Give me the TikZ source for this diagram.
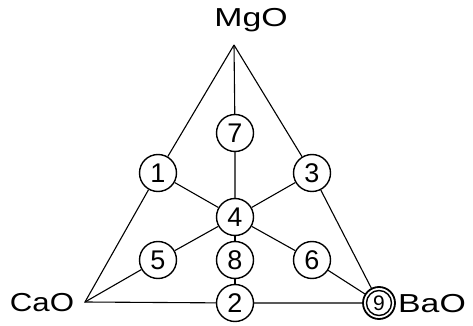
\documentclass[tikz,border=0pt]{standalone}
\usepackage{fontspec}
\setmainfont{Liberation Sans}
\begin{document}
\begin{tikzpicture}[x=1pt,y=1pt,
  num/.style={circle,draw,line width=1.4pt,minimum size=37pt,inner sep=0pt,
              font=\fontsize{27}{27}\selectfont},
  edge/.style={line width=1.1pt},
  lbl/.style={inner sep=0pt,font=\fontsize{26}{26}\selectfont}]
\useasboundingbox (0,0) rectangle (473,326);
\coordinate (A) at (234,281);
\coordinate (C) at (85,24);
\node[num] (n7) at (235,193) {7};
\node[num] (n1) at (158,153) {1};
\node[num] (n3) at (312,153) {3};
\node[num] (n4) at (235,109) {4};
\node[num] (n5) at (158,66) {5};
\node[num] (n8) at (235,66) {8};
\node[num] (n6) at (312,66) {6};
\node[num] (n2) at (235,23) {2};
\node[circle,draw,line width=1.8pt,minimum size=32pt,inner sep=0pt,
      font=\fontsize{21}{21}\selectfont] (n9) at (379,23) {9};
\draw[line width=1.4pt] (n9.center) circle (12.5);
% triangle
\draw[edge] (A) -- (n1) -- (C) -- (n2) -- (n9) -- (n3) -- (A);
% inner connectors
\draw[edge] (A) -- (n7) -- (n4);
\draw[edge] (n1) -- (n4) -- (n3);
\draw[edge] (n5) -- (n4) -- (n6);
\draw[edge] (n4) -- (n8) -- (n2);
\draw[edge] (C) -- (n5);
\draw[edge] (n6) -- (n9);
% labels
\node[lbl] (mgo) at (251,306) {\scalebox{1.3}[1]{MgO}};
\node[lbl] (cao) at (42,23) {\scalebox{1.2}[1]{CaO}};
\node[lbl] (bao) at (432,22) {\scalebox{1.3}[1]{BaO}};
\end{tikzpicture}
\end{document}
